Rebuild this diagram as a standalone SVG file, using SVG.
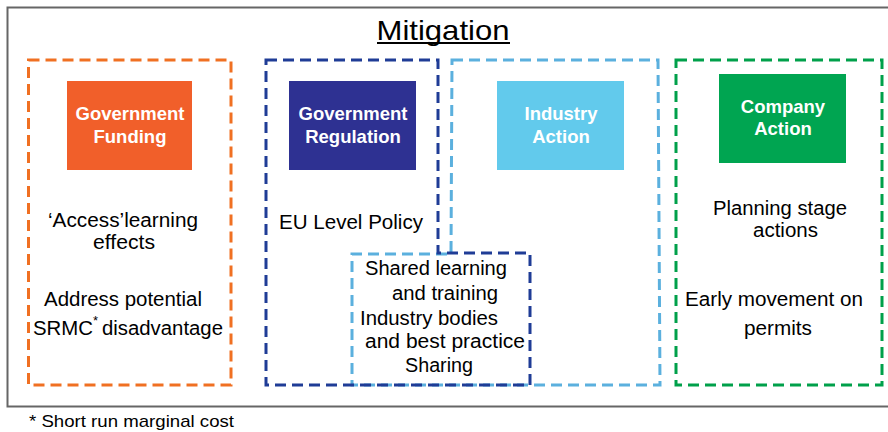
<svg xmlns="http://www.w3.org/2000/svg" width="888" height="432" viewBox="0 0 888 432">
<style>
  .lbl { font-family: "Liberation Sans", Arial, sans-serif; font-size: 19.5px; fill: #000; }
  .box { font-family: "Liberation Sans", Arial, sans-serif; font-size: 18.5px; font-weight: bold; fill: #fff; text-anchor: middle; }
  .dash { fill: none; stroke-width: 3; stroke-dasharray: 11 6; }
  .mid { text-anchor: middle; }
</style>
<rect x="7.5" y="7.5" width="900" height="399" fill="#fff" stroke="#666" stroke-width="2"/>
<g id="title">
  <text x="443" y="39.5" class="lbl mid" style="font-size:28px" textLength="133" lengthAdjust="spacingAndGlyphs">Mitigation</text>
  <line x1="377" y1="43" x2="510" y2="43" stroke="#000" stroke-width="2"/>
</g>
<g id="connectors">
  <rect class="dash" x="28.5" y="60" width="202.5" height="325" stroke="#F07022"/>
  <path class="dash" d="M452,60 L658,60 L660,385 L352,385 L352,254 L451,254 Z" stroke="#5BB0DE"/>
  <path class="dash" d="M266,60 L438,60 L438,253 L530,253 L530,385 L266,385 Z" stroke="#1F3C96"/>
  <rect class="dash" x="676" y="60" width="206" height="325" stroke="#00A04A"/>
</g>
<g id="government-funding">
  <rect x="67" y="81" width="125" height="89" fill="#F15F2A"/>
  <text class="box" x="130" y="120">Government</text>
  <text class="box" x="130" y="143">Funding</text>
  <text class="lbl" x="48" y="227" textLength="150" lengthAdjust="spacingAndGlyphs">‘Access’learning</text>
  <text class="lbl" x="93" y="249" textLength="62" lengthAdjust="spacingAndGlyphs">effects</text>
  <text class="lbl" x="44" y="306" textLength="158" lengthAdjust="spacingAndGlyphs">Address potential</text>
  <text class="lbl" x="33" y="335" textLength="60" lengthAdjust="spacingAndGlyphs">SRMC</text>
  <text class="lbl" x="93" y="325" style="font-size:13px">*</text>
  <text class="lbl" x="102" y="335" textLength="121" lengthAdjust="spacingAndGlyphs">disadvantage</text>
</g>
<g id="government-regulation">
  <rect x="289" y="81" width="127" height="89" fill="#2E3192"/>
  <text class="box" x="353" y="120">Government</text>
  <text class="box" x="353" y="143">Regulation</text>
  <text class="lbl" x="279" y="229" textLength="144" lengthAdjust="spacingAndGlyphs">EU Level Policy</text>
</g>
<g id="industry-action">
  <rect x="497" y="81" width="127" height="89" fill="#62CAEC"/>
  <text class="box" x="561" y="120">Industry</text>
  <text class="box" x="561" y="143">Action</text>
</g>
<g id="shared-box">
  <text class="lbl" x="365" y="275" textLength="142" lengthAdjust="spacingAndGlyphs">Shared learning</text>
  <text class="lbl" x="392" y="300" textLength="106" lengthAdjust="spacingAndGlyphs">and training</text>
  <text class="lbl" x="360" y="325" textLength="138" lengthAdjust="spacingAndGlyphs">Industry bodies</text>
  <text class="lbl" x="365" y="348" textLength="160" lengthAdjust="spacingAndGlyphs">and best practice</text>
  <text class="lbl" x="405" y="372" textLength="68" lengthAdjust="spacingAndGlyphs">Sharing</text>
</g>
<g id="company-action">
  <rect x="719" y="74" width="127" height="89" fill="#00A551"/>
  <text class="box" x="783" y="113">Company</text>
  <text class="box" x="783" y="135">Action</text>
  <text class="lbl" x="713" y="215" textLength="134" lengthAdjust="spacingAndGlyphs">Planning stage</text>
  <text class="lbl" x="753" y="237" textLength="65" lengthAdjust="spacingAndGlyphs">actions</text>
  <text class="lbl" x="685" y="306" textLength="178" lengthAdjust="spacingAndGlyphs">Early movement on</text>
  <text class="lbl" x="744" y="335" textLength="68" lengthAdjust="spacingAndGlyphs">permits</text>
</g>
<g id="footnote">
  <text class="lbl" x="29" y="427" style="font-size:17px" textLength="205" lengthAdjust="spacingAndGlyphs">* Short run marginal cost</text>
</g>
</svg>
